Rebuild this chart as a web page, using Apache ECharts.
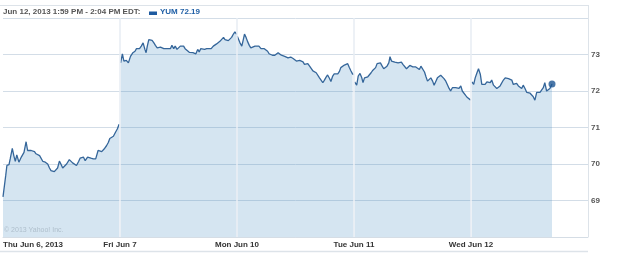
<!DOCTYPE html>
<html>
<head>
<meta charset="utf-8">
<script src="https://cdn.jsdelivr.net/npm/echarts@6/dist/echarts.min.js"></script>
<style>
html,body{margin:0;padding:0;background:#fff;}
#chart{width:625px;height:253px;}
</style>
</head>
<body>
<div id="chart"></div>
<script>
// Trading days (x axis tick labels at day boundaries)
var dayLabels = ['Thu Jun 6, 2013', 'Fri Jun 7', 'Mon Jun 10', 'Tue Jun 11', 'Wed Jun 12'];
var yTickLabels = [69, 70, 71, 72, 73];
var sessionMinutes = 390;

// [minutes since 9:30 open, price] per trading day
var thuJun6 = [[0,69.10],[9,69.68],[13,69.96],[20,69.98],[24,70.14],[31,70.43],[36,70.23],[41,70.07],[46,70.25],[53,70.05],[61,70.19],[70,70.32],[77,70.61],[82,70.37],[88,70.34],[94,70.37],[99,70.32],[105,70.34],[110,70.28],[116,70.30],[122,70.23],[127,70.19],[133,70.07],[141,70.05],[149,70.00],[155,69.89],[160,69.82],[166,69.87],[171,69.79],[177,69.76],[182,69.89],[188,70.08],[193,70.00],[199,69.89],[204,69.91],[212,70.00],[221,70.12],[226,70.09],[232,70.03],[238,70.05],[245,69.96],[252,70.07],[257,70.16],[263,70.12],[268,70.19],[274,70.09],[282,70.19],[287,70.14],[293,70.16],[301,70.14],[309,70.14],[317,70.37],[322,70.39],[329,70.34],[337,70.41],[345,70.50],[351,70.59],[356,70.70],[362,70.68],[368,70.76],[375,70.87],[381,70.96],[387,71.09]];
var friJun7 = [[2,72.77],[8,73.02],[13,72.82],[21,72.84],[28,72.77],[35,72.95],[43,73.05],[50,73.09],[55,73.16],[61,73.20],[65,73.16],[71,73.23],[77,73.32],[83,73.14],[87,73.05],[91,73.23],[96,73.41],[101,73.38],[107,73.39],[113,73.32],[118,73.25],[124,73.18],[129,73.23],[135,73.20],[140,73.18],[146,73.16],[151,73.14],[157,73.16],[162,73.20],[168,73.16],[173,73.25],[179,73.16],[184,73.23],[190,73.14],[195,73.16],[201,73.23],[206,73.25],[212,73.23],[217,73.16],[223,73.11],[231,73.06],[237,73.07],[243,73.05],[249,73.09],[253,73.02],[259,73.14],[264,73.07],[269,73.16],[275,73.14],[282,73.14],[289,73.16],[295,73.14],[304,73.16],[311,73.23],[317,73.25],[322,73.29],[328,73.32],[333,73.36],[339,73.41],[345,73.47],[350,73.41],[356,73.44],[361,73.38],[366,73.41],[372,73.47],[378,73.56],[383,73.62],[389,73.55]];
var monJun10 = [[1,73.50],[5,73.45],[10,73.32],[16,73.23],[21,73.41],[25,73.56],[30,73.47],[35,73.36],[41,73.25],[46,73.18],[52,73.16],[60,73.23],[66,73.25],[73,73.23],[80,73.16],[85,73.14],[91,73.16],[96,73.11],[102,73.09],[107,73.02],[113,73.05],[118,72.98],[126,72.98],[132,73.02],[137,73.05],[143,73.00],[148,72.98],[154,73.00],[159,72.95],[165,72.95],[170,72.91],[179,72.93],[187,72.89],[192,72.91],[198,72.82],[203,72.80],[209,72.84],[214,72.82],[220,72.80],[225,72.73],[231,72.71],[236,72.75],[242,72.68],[247,72.64],[253,72.55],[258,72.53],[264,72.50],[269,72.46],[275,72.36],[281,72.32],[286,72.23],[291,72.29],[297,72.38],[302,72.44],[308,72.35],[313,72.26],[319,72.41],[324,72.47],[330,72.44],[336,72.47],[341,72.53],[346,72.64],[352,72.65],[358,72.71],[363,72.68],[369,72.75],[374,72.65],[380,72.55],[385,72.47],[389,72.45]];
var tueJun11 = [[2,72.25],[6,72.27],[9,72.16],[14,72.41],[20,72.48],[26,72.36],[30,72.23],[35,72.36],[41,72.34],[46,72.39],[52,72.43],[57,72.50],[63,72.57],[67,72.55],[72,72.64],[77,72.75],[83,72.73],[88,72.77],[94,72.68],[99,72.61],[105,72.64],[110,72.68],[116,72.77],[120,72.94],[125,72.82],[130,72.77],[136,72.79],[141,72.75],[147,72.77],[152,72.75],[158,72.79],[163,72.73],[169,72.70],[175,72.61],[180,72.66],[186,72.70],[191,72.73],[196,72.66],[201,72.61],[206,72.66],[212,72.64],[218,72.59],[223,72.68],[229,72.64],[235,72.52],[240,72.39],[245,72.27],[251,72.32],[256,72.36],[262,72.27],[267,72.16],[273,72.27],[278,72.36],[284,72.41],[289,72.43],[295,72.41],[300,72.34],[306,72.27],[311,72.18],[317,72.07],[322,72.00],[328,72.09],[334,72.12],[339,72.09],[345,72.12],[350,72.07],[356,72.14],[361,72.00],[367,71.96],[372,71.88],[378,71.82],[383,71.77],[389,71.75]];
var wedJun12 = [[3,72.25],[9,72.18],[14,72.36],[20,72.50],[25,72.61],[31,72.46],[36,72.18],[42,72.14],[47,72.18],[53,72.25],[58,72.30],[64,72.23],[69,72.30],[75,72.16],[80,72.14],[86,72.07],[91,72.09],[97,72.14],[103,72.18],[108,72.30],[114,72.36],[119,72.34],[125,72.34],[130,72.36],[136,72.30],[141,72.18],[147,72.14],[152,72.21],[158,72.14],[163,72.16],[169,72.07],[174,72.16],[180,72.07],[186,71.96],[191,71.97],[197,71.94],[202,71.96],[207,71.85],[213,71.75],[219,71.96],[224,71.97],[230,71.96],[235,72.00],[241,72.09],[246,72.23],[252,72.00],[257,72.00],[263,72.07],[270,72.19]];

var days = [thuJun6, friJun7, monJun10, tueJun11, wedJun12];

function toXY(dayIdx, arr) {
  return arr.map(function (p) { return [dayIdx + p[0] / sessionMinutes, p[1]]; });
}

var lineColor = '#35669a';
var series = days.map(function (d, i) {
  return {
    type: 'line',
    data: toXY(i, d),
    showSymbol: false,
    symbol: 'none',
    smooth: false,
    lineStyle: { color: lineColor, width: 1.3 },
    areaStyle: { color: 'rgba(66,135,192,0.22)', opacity: 1, origin: 'start' },
    z: 2,
    silent: true
  };
});
var lastDay = toXY(4, wedJun12);
series.push({
  type: 'scatter',
  data: [lastDay[lastDay.length - 1]],
  symbol: 'circle',
  symbolSize: 7,
  itemStyle: { color: '#1d5592' },
  z: 4,
  silent: true
});

var chart = echarts.init(document.getElementById('chart'), null, { renderer: 'canvas' });
var font = '"Liberation Sans", Arial, sans-serif';
chart.setOption({
  animation: false,
  backgroundColor: '#fff',
  grid: { left: 0, right: 37, top: 18, bottom: 16 },
  xAxis: {
    type: 'value',
    min: 0,
    max: 5,
    interval: 1,
    z: 3,
    axisLine: { show: true, lineStyle: { color: '#d5dde5', width: 1 } },
    axisTick: { show: false },
    splitLine: { show: true, showMinLine: false, showMaxLine: false, lineStyle: { color: '#e7edf3', width: 1.5 } },
    axisLabel: {
      showMaxLabel: false,
      alignMinLabel: 'left',
      margin: 4,
      fontFamily: font,
      fontWeight: 'bold',
      fontSize: 8,
      color: '#333',
      formatter: function (v) {
        var i = Math.round(v);
        return dayLabels[i] || '';
      }
    }
  },
  yAxis: {
    type: 'value',
    position: 'right',
    min: 68,
    max: 74,
    interval: 1,
    z: 0,
    axisLine: { show: false },
    axisTick: { show: false },
    splitLine: { show: true, lineStyle: { color: '#d3dde7', width: 1 } },
    axisLabel: {
      margin: 3,
      fontFamily: font,
      fontWeight: 'bold',
      fontSize: 8,
      color: '#555',
      formatter: function (v) {
        return yTickLabels.indexOf(Math.round(v)) >= 0 ? String(Math.round(v)) : '';
      }
    }
  },
  graphic: [
    { type: 'line', shape: { x1: 0, y1: 5.5, x2: 588, y2: 5.5 }, style: { stroke: '#dde3e9', lineWidth: 1 }, z: 10 },
    { type: 'line', shape: { x1: 588.5, y1: 5, x2: 588.5, y2: 237 }, style: { stroke: '#dde3e9', lineWidth: 1 }, z: 10 },
    { type: 'line', shape: { x1: 0, y1: 251.5, x2: 588, y2: 251.5 }, style: { stroke: '#dde3e9', lineWidth: 1.5 }, z: 10 },
    { type: 'text', left: 3, top: 8, style: { text: 'Jun 12, 2013 1:59 PM - 2:04 PM EDT:', font: 'bold 8px ' + font, fill: '#555' }, z: 10 },
    { type: 'rect', shape: { x: 149, y: 11.5, width: 8, height: 3.5 }, style: { fill: '#1d5aa0' }, z: 10 },
    { type: 'text', left: 160, top: 8, style: { text: 'YUM 72.19', font: 'bold 8px ' + font, fill: '#1f5fa6' }, z: 10 },
    { type: 'text', left: 4, top: 227, style: { text: '© 2013 Yahoo! Inc.', font: '7px ' + font, fill: '#afbfcc' }, z: 10 }
  ],
  series: series
});
</script>
</body>
</html>
